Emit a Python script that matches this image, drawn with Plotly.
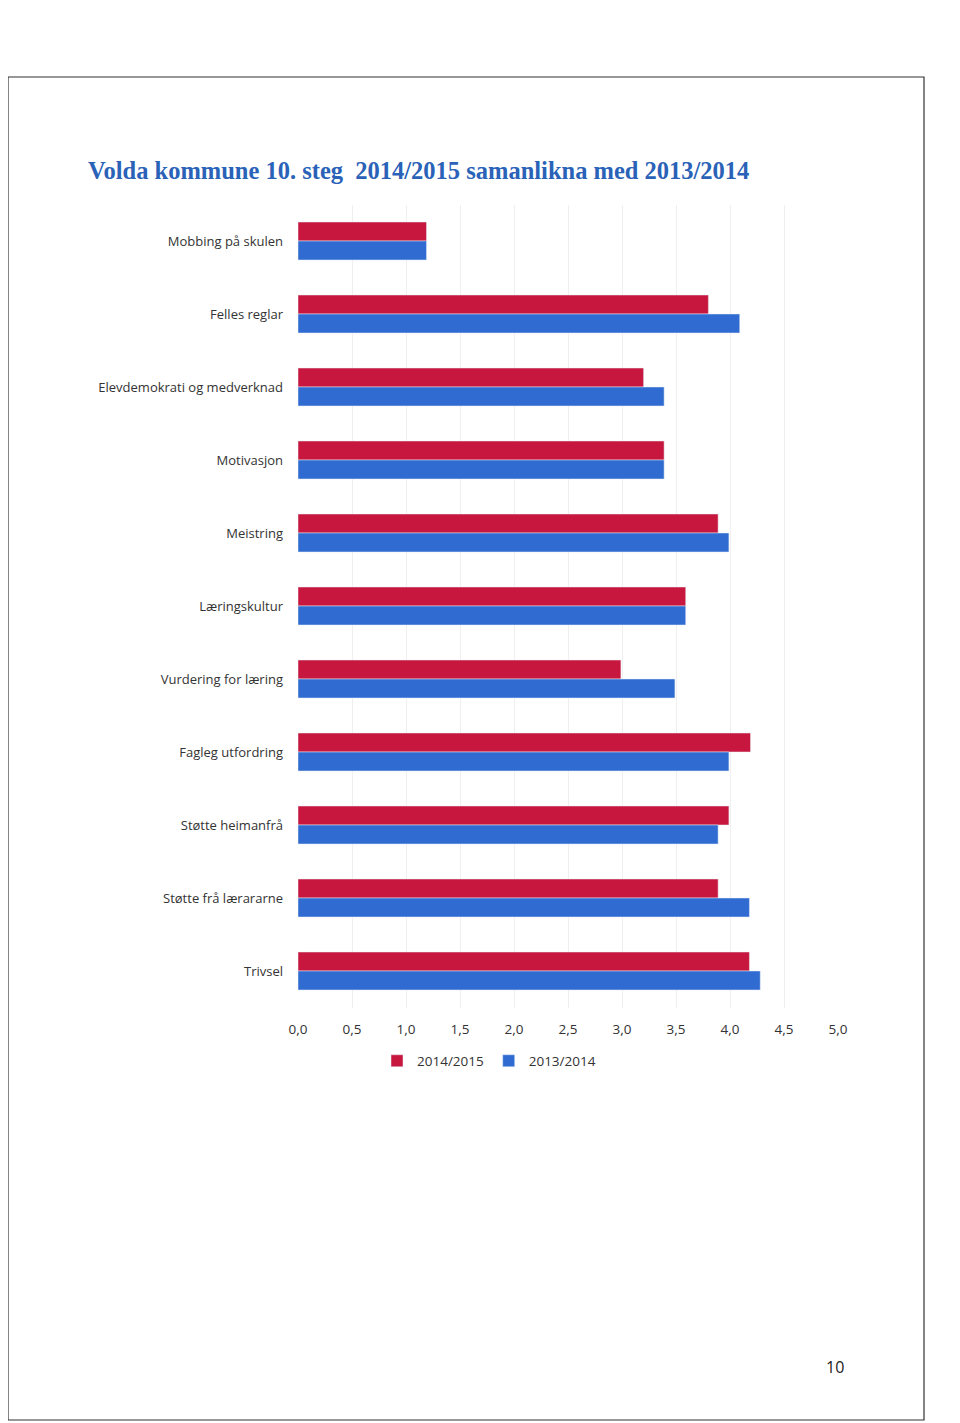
import plotly.graph_objects as go

categories = ["Mobbing på skulen", "Felles reglar", "Elevdemokrati og medverknad", "Motivasjon",
              "Meistring", "Læringskultur", "Vurdering for læring", "Fagleg utfordring",
              "Støtte heimanfrå", "Støtte frå lærararne", "Trivsel"]
v2014_2015 = [1.19, 3.80, 3.20, 3.39, 3.89, 3.59, 2.99, 4.19, 3.99, 3.89, 4.18]
v2013_2014 = [1.19, 4.09, 3.39, 3.39, 3.99, 3.59, 3.49, 3.99, 3.89, 4.18, 4.28]
x_ticks = [0, 0.5, 1, 1.5, 2, 2.5, 3, 3.5, 4, 4.5, 5]

W, H = 960, 1423
OFF = 8  # page body margin
fig = go.Figure()
fig.add_trace(go.Bar(y=categories, x=v2014_2015, orientation="h", name="2014/2015",
                     marker=dict(color="#C8173E")))
fig.add_trace(go.Bar(y=categories, x=v2013_2014, orientation="h", name="2013/2014",
                     marker=dict(color="#2F6BD0")))

def px_x(p): return (p - OFF) / W
def px_y(p): return 1 - (p - OFF) / H

fig.update_layout(
    width=W, height=H, margin=dict(l=0, r=0, t=0, b=0),
    paper_bgcolor="white", plot_bgcolor="white",
    barmode="group", bargap=0.48, bargroupgap=0,
    separators=", ",
    font=dict(family="Open Sans", size=13, color="#333333"),
    xaxis=dict(domain=[px_x(298), px_x(838)], range=[0, 5], tickvals=x_ticks, tickformat=".1f",
               showgrid=True, gridcolor="#efefef", gridwidth=1, zeroline=False,
               showline=False, automargin=False, ticklabelstandoff=12,
               tickfont=dict(size=13.5, color="#333333")),
    yaxis=dict(domain=[px_y(1007.5), px_y(204.5)], autorange="reversed", showgrid=False,
               showline=False, automargin=False, ticklabelstandoff=14,
               tickfont=dict(size=13, color="#333333")),
    legend=dict(orientation="h", x=px_x(377), xanchor="left", y=px_y(1061), yanchor="middle",
                font=dict(size=13.5, color="#333333"), itemwidth=30, traceorder="normal"),
    showlegend=True,
)

fig.add_annotation(text="<b>Volda kommune 10. steg  2014/2015 samanlikna med 2013/2014</b>",
                   x=px_x(86), y=px_y(171), xref="paper", yref="paper", xanchor="left", yanchor="middle",
                   showarrow=False, font=dict(family="Liberation Serif", size=24.5, color="#2A62B8"))
fig.add_annotation(text="10", x=px_x(835), y=px_y(1367), xref="paper", yref="paper",
                   xanchor="center", yanchor="middle", showarrow=False,
                   font=dict(family="Open Sans", size=16, color="#222222"))

# page frame
fig.add_shape(type="rect", xref="paper", yref="paper", x0=px_x(8), x1=px_x(924),
              y0=px_y(1420), y1=px_y(77), line=dict(color="#333333", width=1.2))

fig.write_html("out.html")
